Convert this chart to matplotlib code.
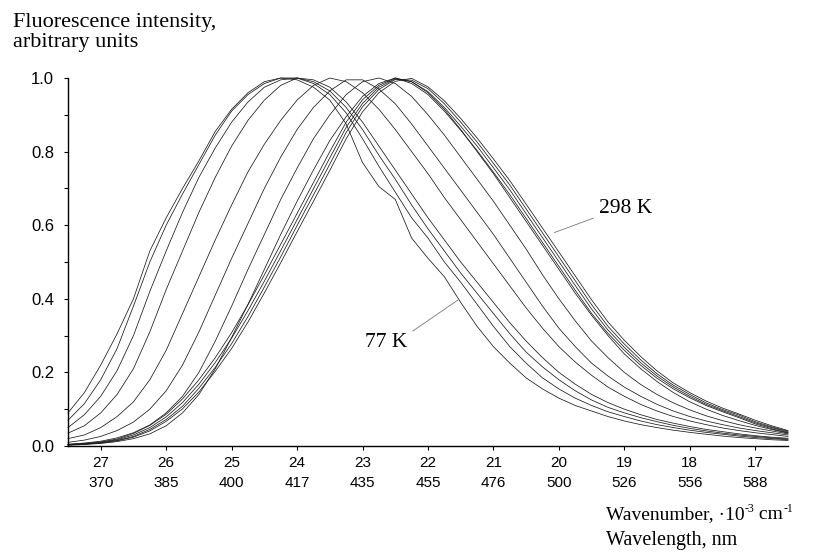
import matplotlib
matplotlib.use('Agg')
import matplotlib.pyplot as plt
from matplotlib.ticker import MultipleLocator

# wavenumber grid, 10^3 cm^-1 (decreasing, as on the plot)
wavenumber = [27.5, 27.25, 27.0, 26.75, 26.5, 26.25, 26.0, 25.75, 25.5, 25.25,
              25.0, 24.75, 24.5, 24.25, 24.0, 23.75, 23.5, 23.25, 23.0, 22.75,
              22.5, 22.25, 22.0, 21.75, 21.5, 21.25, 21.0, 20.75, 20.5, 20.25,
              20.0, 19.75, 19.5, 19.25, 19.0, 18.75, 18.5, 18.25, 18.0, 17.75,
              17.5, 17.25, 17.0, 16.75, 16.5]

# normalised fluorescence spectra, 77 K first ... 298 K last
spec_77K = [.09, .145, .22, .305, .40, .53, .62, .70, .775, .855,
            .915, .96, .99, 1.0, .995, .975, .94, .875, .77, .705,
            .67, .565, .51, .46, .39, .325, .27, .225, .185, .155,
            .13, .11, .095, .08, .068, .058, .05, .043, .037, .032,
            .027, .023, .02, .017, .015]
spec_02 = [.07, .115, .18, .265, .38, .50, .60, .685, .765, .845,
           .91, .955, .985, 1.0, 1.0, .985, .955, .905, .835, .76,
           .69, .62, .565, .50, .445, .385, .325, .27, .225, .185,
           .155, .13, .11, .093, .08, .068, .058, .05, .043, .037,
           .032, .027, .023, .02, .017]
spec_03 = [.05, .085, .135, .205, .30, .42, .53, .635, .73, .81,
           .88, .935, .975, .995, 1.0, .99, .965, .92, .86, .79,
           .725, .655, .59, .53, .47, .415, .36, .305, .255, .215,
           .18, .15, .125, .105, .09, .077, .066, .056, .048, .041,
           .035, .03, .026, .022, .019]
spec_04 = [.035, .055, .09, .14, .21, .31, .425, .53, .635, .73,
           .815, .885, .94, .98, 1.0, .995, .975, .935, .88, .815,
           .75, .685, .62, .56, .50, .445, .39, .335, .285, .24,
           .20, .168, .14, .118, .10, .085, .072, .062, .053, .045,
           .039, .033, .028, .024, .021]
spec_05 = [.02, .03, .05, .08, .12, .18, .26, .36, .46, .56,
           .655, .745, .82, .885, .94, .98, 1.0, .99, .96, .915,
           .86, .80, .74, .675, .615, .555, .495, .435, .375, .32,
           .27, .228, .192, .16, .135, .113, .095, .08, .068, .058,
           .049, .042, .036, .031, .026]
spec_06 = [.01, .016, .026, .042, .065, .10, .15, .22, .31, .41,
           .51, .605, .70, .785, .86, .92, .965, .995, .995, .97,
           .93, .875, .815, .755, .695, .635, .575, .51, .445, .38,
           .32, .27, .225, .19, .16, .135, .113, .095, .08, .068,
           .058, .049, .042, .036, .03]
spec_07 = [.005, .008, .013, .022, .036, .057, .09, .135, .20, .285,
           .38, .48, .575, .67, .755, .835, .90, .955, .99, 1.0,
           .985, .95, .90, .845, .785, .725, .665, .60, .535, .465,
           .40, .34, .285, .24, .20, .167, .14, .117, .098, .082,
           .069, .058, .049, .041, .033]
spec_08 = [.002, .004, .007, .012, .02, .033, .055, .09, .14, .21,
           .295, .385, .48, .575, .665, .75, .83, .895, .95, .985,
           1.0, .99, .96, .915, .86, .80, .74, .675, .61, .545,
           .48, .415, .355, .30, .25, .21, .175, .145, .12, .10,
           .083, .069, .056, .045, .035]
spec_09 = [.004, .007, .011, .019, .034, .056, .086, .128, .18, .24,
           .308, .384, .465, .548, .632, .716, .80, .88, .941, .98,
           1.0, .985, .955, .91, .858, .803, .744, .683, .618, .553,
           .488, .423, .36, .306, .26, .219, .184, .155, .131, .11,
           .093, .077, .06, .047, .036]
spec_10 = [.004, .006, .01, .017, .03, .05, .079, .118, .168, .227,
           .293, .368, .448, .531, .615, .699, .783, .866, .931, .975,
           .998, .99, .963, .92, .869, .815, .756, .696, .631, .566,
           .501, .436, .372, .315, .268, .226, .19, .16, .135, .113,
           .096, .08, .063, .05, .038]
spec_11 = [.003, .005, .009, .015, .026, .045, .072, .108, .157, .214,
           .278, .352, .432, .514, .599, .682, .766, .852, .922, .969,
           .996, .994, .971, .93, .88, .826, .768, .709, .644, .579,
           .514, .449, .384, .325, .277, .234, .196, .165, .14, .117,
           .099, .084, .066, .052, .04]
spec_298K = [.003, .005, .008, .014, .024, .041, .067, .101, .147, .203,
             .265, .337, .416, .498, .582, .665, .749, .835, .908, .96,
             .991, .999, .976, .938, .89, .837, .78, .721, .657, .592,
             .527, .462, .397, .337, .287, .243, .204, .171, .145, .122,
             .103, .087, .07, .055, .042]

spectra = [spec_77K, spec_02, spec_03, spec_04, spec_05, spec_06,
           spec_07, spec_08, spec_09, spec_10, spec_11, spec_298K]

tick_wavenumber = [27, 26, 25, 24, 23, 22, 21, 20, 19, 18, 17]
tick_wavelength = ['370', '385', '400', '417', '435', '455',
                   '476', '500', '526', '556', '588']

SERIF = 'Liberation Serif'
SANS = 'Liberation Sans'
W, H = 821, 554


def put_pieces(fig, x_px, base_px, pieces):
    # write text pieces one after another (for the small superscripts)
    renderer = fig.canvas.get_renderer()
    x = x_px / W
    for s, size, rise in pieces:
        t = fig.text(x, 1 - (base_px - rise) / H, s, family=SERIF, fontsize=size,
                     ha='left', va='baseline')
        x = t.get_window_extent(renderer).x1 / W


def make_plot(out_file):
    plt.rcParams['font.family'] = SANS

    fig = plt.figure(figsize=(W / 100, H / 100), dpi=100)
    ax = fig.add_axes([68 / W, 1 - 446 / H, 720 / W, 368 / H])

    for spec in spectra:
        ax.plot(wavenumber, spec, color='#1a1a1a', lw=0.55, clip_on=False)

    ax.set_xlim(27.5, 16.5)
    ax.set_ylim(0, 1.0)

    # two-row tick labels: wavenumber over wavelength
    ax.set_xticks(tick_wavenumber)
    ax.set_xticklabels([f'{w}\n{nm}' for w, nm in zip(tick_wavenumber, tick_wavelength)],
                       fontsize=11, linespacing=1.55)
    ax.yaxis.set_major_locator(MultipleLocator(0.2))
    ax.yaxis.set_minor_locator(MultipleLocator(0.1))
    ax.set_yticklabels([f'{v:.1f}' for v in ax.get_yticks()], fontsize=12)
    ax.tick_params(axis='both', which='both', direction='out', length=3, width=0.8)
    ax.tick_params(axis='y', pad=7)
    ax.tick_params(axis='x', pad=4)

    for side in ['top', 'right']:
        ax.spines[side].set_visible(False)
    for side in ['left', 'bottom']:
        ax.spines[side].set_linewidth(1.0)

    # curve labels
    ax.annotate('298 K', xy=(20.07, 0.58), xytext=(19.39, 0.633),
                fontsize=15.5, family=SERIF, ha='left', va='baseline',
                arrowprops=dict(arrowstyle='-', color='#777777', lw=0.6,
                                relpos=(0.0, 0.1), shrinkA=2, shrinkB=0))
    ax.annotate('77 K', xy=(21.54, 0.397), xytext=(22.31, 0.27),
                fontsize=15.5, family=SERIF, ha='right', va='baseline',
                arrowprops=dict(arrowstyle='-', color='#777777', lw=0.6,
                                relpos=(1.0, 0.9), shrinkA=2, shrinkB=0))

    # axis titles placed like in the original figure
    fig.text(13 / W, 1 - 13 / H, 'Fluorescence intensity,\narbitrary units',
             family=SERIF, fontsize=16, va='top', ha='left', linespacing=1.1)
    put_pieces(fig, 606, 519, [('Wavenumber, ·10', 14, 0), ('-3', 8.5, 7),
                               (' cm', 14, 0), ('-1', 8.5, 7)])
    put_pieces(fig, 606, 545, [('Wavelength, nm', 14.5, 0)])

    fig.savefig(out_file, dpi=100)


if __name__ == '__main__':
    make_plot('out.png')
